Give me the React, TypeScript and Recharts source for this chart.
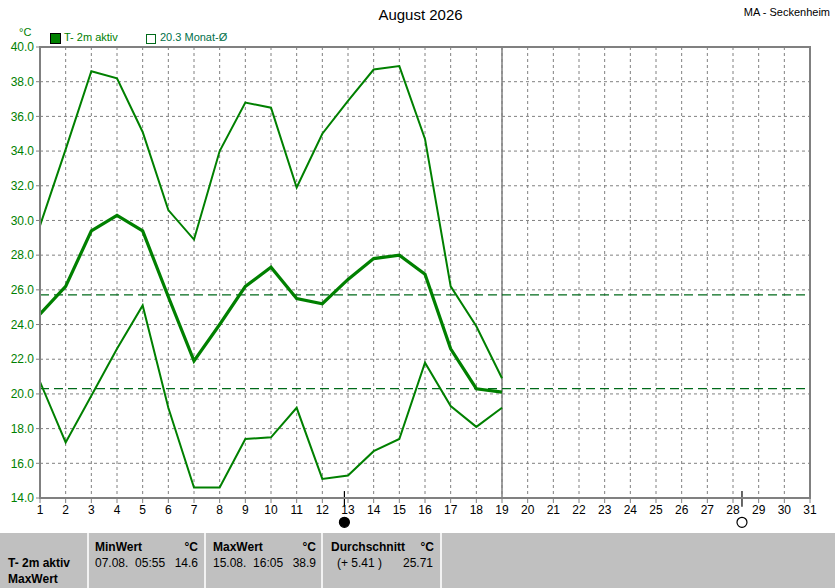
import React from 'react';
import {
  LineChart,
  Line,
  XAxis,
  YAxis,
  CartesianGrid,
  ReferenceLine,
  ReferenceArea,
  ReferenceDot
} from 'recharts';

const days = [1, 2, 3, 4, 5, 6, 7, 8, 9, 10, 11, 12, 13, 14, 15, 16, 17, 18, 19];
const maxTemps = [29.7, 34.1, 38.6, 38.2, 35.1, 30.6, 28.9, 34.0, 36.8, 36.5, 31.9, 35.0, 36.9, 38.7, 38.9, 34.7, 26.2, 23.9, 20.9];
const meanTemps = [24.6, 26.2, 29.4, 30.3, 29.4, 25.6, 21.9, 24.0, 26.2, 27.3, 25.5, 25.2, 26.6, 27.8, 28.0, 26.9, 22.6, 20.3, 20.1];
const minTemps = [20.7, 17.2, 19.9, 22.6, 25.1, 19.2, 14.6, 14.6, 17.4, 17.5, 19.2, 15.1, 15.3, 16.7, 17.4, 21.8, 19.3, 18.1, 19.2];

const xTicks = Array.from({ length: 31 }, (_, i) => i + 1);
const yTicks = [14, 16, 18, 20, 22, 24, 26, 28, 30, 32, 34, 36, 38, 40];

const periodMean = 25.71;
const monthMean = 20.3;
const currentDay = 19;
const moonPhases = [
  { day: 12.86, filled: true },
  { day: 28.35, filled: false }
];

const data = days.map((d, i) => ({
  day: d,
  max: maxTemps[i],
  mean: meanTemps[i],
  min: minTemps[i]
}));

const GREEN = '#008000';
const DASH_GREEN = '#006a1a';
const GRID = '#808080';
const FONT = '"Liberation Sans", Arial, sans-serif';

const abs = (left: number, top: number, extra: React.CSSProperties = {}): React.CSSProperties => ({
  position: 'absolute',
  left,
  top,
  whiteSpace: 'pre',
  ...extra
});

const Cell = ({ x, y, children, bold, right }: any) => (
  <div
    style={
      right
        ? { position: 'absolute', right: 835 - x, top: y, fontWeight: bold ? 700 : 400, whiteSpace: 'pre' }
        : { position: 'absolute', left: x, top: y, fontWeight: bold ? 700 : 400, whiteSpace: 'pre' }
    }
  >
    {children}
  </div>
);

export default function App() {
  return (
    <div
      style={{
        position: 'absolute',
        left: 0,
        top: 0,
        width: 835,
        height: 588,
        background: '#fff',
        fontFamily: FONT,
        fontSize: 12,
        overflow: 'hidden'
      }}
    >
      <div style={abs(0, 6, { width: 835, textAlign: 'center', fontSize: 15, color: '#000', left: 3 })}>
        August 2026
      </div>
      <div style={{ position: 'absolute', right: 5, top: 6, fontSize: 11, color: '#000', whiteSpace: 'pre' }}>
        MA - Seckenheim
      </div>
      <div style={abs(19, 26, { fontSize: 11, color: GREEN })}>°C</div>

      <div style={abs(50, 33, { width: 9, height: 9, background: GREEN, border: '1px solid #000' })} />
      <div style={abs(64, 31, { fontSize: 11, color: GREEN })}>T- 2m aktiv</div>
      <div style={abs(146, 34, { width: 8, height: 8, border: `1px solid ${DASH_GREEN}` })} />
      <div style={abs(160, 31, { fontSize: 11, color: '#00704a' })}>20.3 Monat-Ø</div>

      <div style={{ position: 'absolute', left: 0, top: 0 }}>
        <LineChart
          width={835}
          height={533}
          data={data}
          margin={{ top: 47, right: 25, left: 0, bottom: 5 }}
        >
          <CartesianGrid stroke={GRID} strokeDasharray="3 3" />
          <XAxis
            dataKey="day"
            type="number"
            domain={[1, 31]}
            ticks={xTicks}
            interval={0}
            height={30}
            stroke={GRID}
            strokeWidth={2}
            tickSize={5}
            tick={{ fill: '#000', fontSize: 12, fontFamily: FONT }}
            tickLine={{ stroke: GRID, strokeWidth: 1 }}
            allowDataOverflow
          />
          <YAxis
            type="number"
            domain={[14, 40]}
            ticks={yTicks}
            interval={0}
            width={40}
            stroke={GRID}
            strokeWidth={2}
            tickSize={4}
            tickFormatter={(v: number) => v.toFixed(1)}
            tick={{ fill: GREEN, fontSize: 12, fontFamily: FONT }}
            tickLine={{ stroke: GRID, strokeWidth: 1 }}
            allowDataOverflow
          />
          <ReferenceArea x1={1} x2={31} y1={14} y2={40} fill="none" stroke={GRID} strokeWidth={2} />
          <ReferenceLine x={currentDay} stroke={GRID} strokeWidth={1.5} />
          <ReferenceLine y={periodMean} stroke={DASH_GREEN} strokeDasharray="9 5" strokeWidth={1.2} />
          <ReferenceLine y={monthMean} stroke={DASH_GREEN} strokeDasharray="9 5" strokeWidth={1.2} />
          <Line type="linear" dataKey="max" stroke={GREEN} strokeWidth={2} dot={false} isAnimationActive={false} />
          <Line type="linear" dataKey="min" stroke={GREEN} strokeWidth={2} dot={false} isAnimationActive={false} />
          <Line type="linear" dataKey="mean" stroke={GREEN} strokeWidth={3.2} dot={false} isAnimationActive={false} />
          {moonPhases.map((m) => (
            <ReferenceLine
              key={`t${m.day}`}
              segment={[
                { x: m.day, y: 14.4 },
                { x: m.day, y: 13.5 }
              ]}
              stroke="#000"
              strokeWidth={1.2}
              ifOverflow="visible"
            />
          ))}
          {moonPhases.map((m) => (
            <ReferenceDot
              key={`d${m.day}`}
              x={m.day}
              y={12.6}
              r={5}
              fill={m.filled ? '#000' : '#fff'}
              stroke="#000"
              strokeWidth={1.2}
              ifOverflow="visible"
            />
          ))}
        </LineChart>
      </div>

      <div style={abs(0, 533, { width: 835, height: 55, background: '#c0c0c0', color: '#000', fontSize: 12 })}>
        {[88, 205, 322, 441].map((x) => (
          <div key={x} style={{ position: 'absolute', left: x - 1, top: 0, width: 2, height: 55, background: '#f2f2f2' }} />
        ))}
        <Cell x={8} y={23} bold>T- 2m aktiv</Cell>
        <Cell x={8} y={39} bold>MaxWert</Cell>

        <Cell x={95} y={7} bold>MinWert</Cell>
        <Cell x={198} y={7} bold right>°C</Cell>
        <Cell x={95} y={23}>07.08.  05:55</Cell>
        <Cell x={198} y={23} right>14.6</Cell>

        <Cell x={213} y={7} bold>MaxWert</Cell>
        <Cell x={316} y={7} bold right>°C</Cell>
        <Cell x={213} y={23}>15.08.  16:05</Cell>
        <Cell x={316} y={23} right>38.9</Cell>

        <Cell x={331} y={7} bold>Durchschnitt</Cell>
        <Cell x={434} y={7} bold right>°C</Cell>
        <Cell x={337} y={23}>(+ 5.41 )</Cell>
        <Cell x={433} y={23} right>25.71</Cell>
      </div>
    </div>
  );
}
